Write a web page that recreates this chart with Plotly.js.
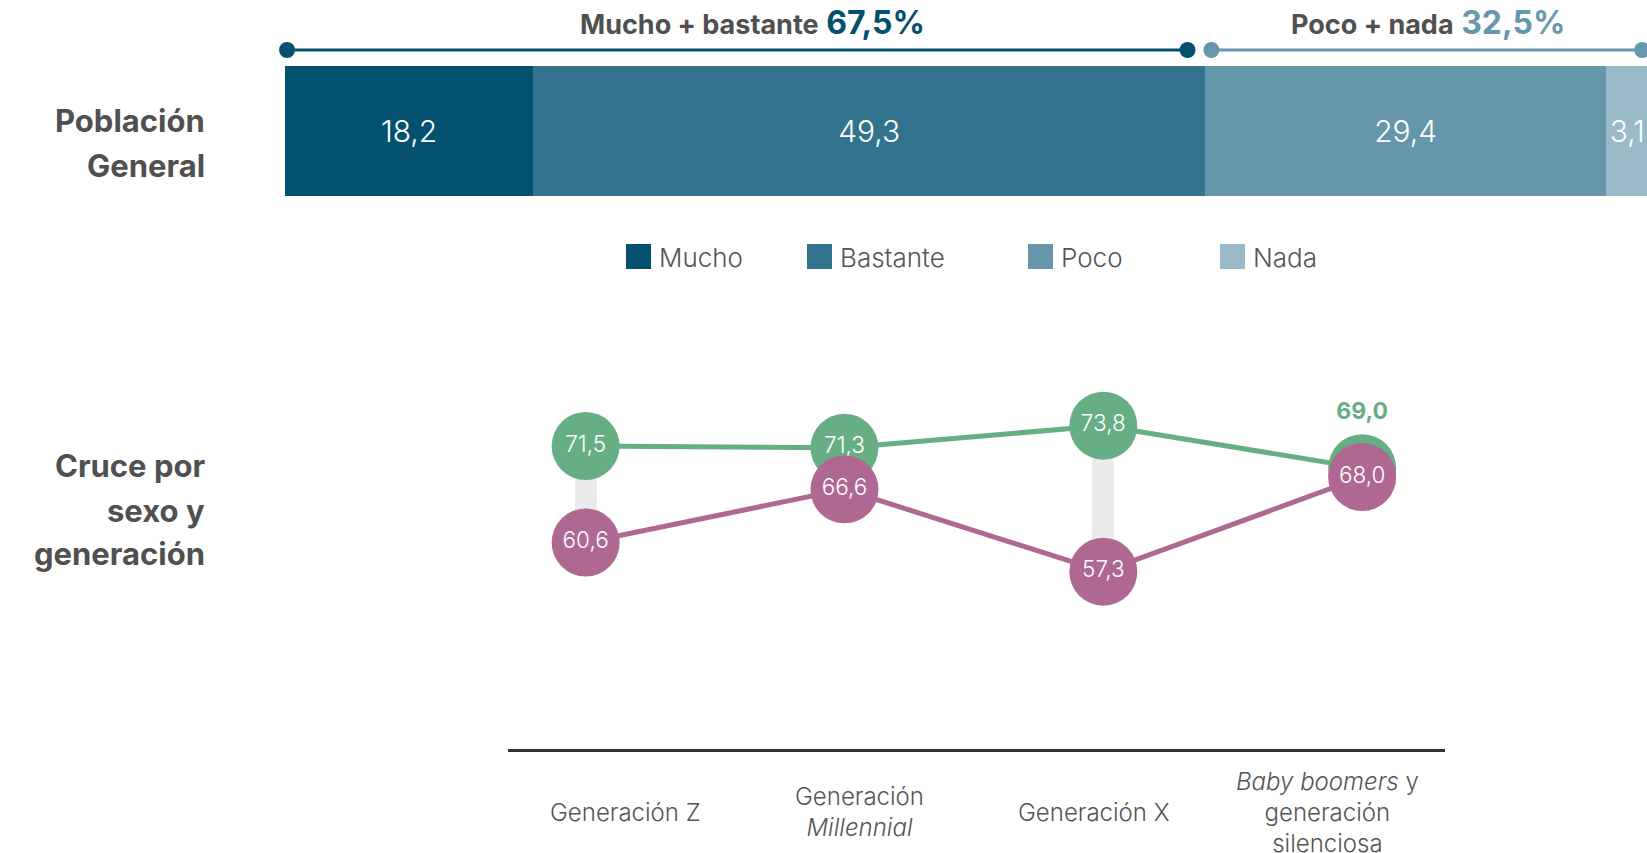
<!DOCTYPE html>
<html>
<head>
<meta charset="utf-8">
<script src="https://cdn.plot.ly/plotly-3.0.1.min.js"></script>
<style>html,body{margin:0;padding:0;background:#fff;}#chart{width:1647px;height:853px;}</style>
</head>
<body>
<div id="chart"></div>
<script>
// ---------- DATA ----------
const levels = ['Mucho', 'Bastante', 'Poco', 'Nada'];
const generalValues = [18.2, 49.3, 29.4, 3.1];
const generations = ['Generación Z', 'Generación Millennial', 'Generación X', 'Baby boomers y generación silenciosa'];
const generationLabels = ['Generación Z', 'Generación<br><i>Millennial</i>', 'Generación X', '<i>Baby boomers</i> y<br>generación<br>silenciosa'];
const seriesGreen = [71.5, 71.3, 73.8, 69.0];
const seriesPurple = [60.6, 66.6, 57.3, 68.0];
const groupTitles = ['Mucho + bastante', 'Poco + nada'];
const rowLabelGeneral = ['Población', 'General'];
const rowLabelCross = ['Cruce por', 'sexo y', 'generación'];

// ---------- STYLE ----------
const W = 1647, H = 853;
const FONT = 'Inter, "Open Sans", sans-serif';
const levelColors = ['#03506f', '#34738d', '#6696ab', '#9bbac8'];
const GREEN = '#67ae85', PURPLE = '#ae6891', GRAY_LINK = '#ebebeb';
const TEXT = '#505050';
const px = x => x / W, py = y => 1 - y / H;
const fmt = v => v.toFixed(1).replace('.', ',');

const X_LEFT = px(285), X_MAX = 99.9;
const xTopPaper = v => X_LEFT + (1 - X_LEFT) * v / X_MAX;

const sumHigh = generalValues[0] + generalValues[1];
const sumLow = generalValues[2] + generalValues[3];

const traces = [];
// top stacked bar
levels.forEach((lv, i) => {
  traces.push({
    type: 'bar', orientation: 'h', name: lv,
    x: [generalValues[i]], y: [0], width: [1],
    xaxis: 'x', yaxis: 'y',
    marker: {color: levelColors[i], line: {width: 0}},
    text: [fmt(generalValues[i])], textposition: 'inside', insidetextanchor: 'middle',
    constraintext: 'none', textangle: 0,
    textfont: {family: FONT, size: 30, color: '#ffffff', weight: 300},
    showlegend: false, hoverinfo: 'skip', cliponaxis: true
  });
});
// gray connectors
traces.push({
  type: 'bar', x: generations, y: seriesGreen.map((g, i) => g - seriesPurple[i]),
  base: seriesPurple, width: 0.086, xaxis: 'x3', yaxis: 'y2',
  marker: {color: GRAY_LINK, line: {width: 0}}, showlegend: false, hoverinfo: 'skip'
});
// green series
const lastIdx = seriesGreen.length - 1;
traces.push({
  type: 'scatter', mode: 'lines+markers+text', name: 'Serie 1',
  x: generations, y: seriesGreen, xaxis: 'x3', yaxis: 'y2',
  line: {color: GREEN, width: 5},
  marker: {color: GREEN, size: 68, line: {width: 0}},
  text: seriesGreen.map((v, i) => i === lastIdx ? '<b>' + fmt(v) + '</b>' : fmt(v)),
  textposition: seriesGreen.map((v, i) => i === lastIdx ? 'top center' : 'middle center'),
  textfont: {family: FONT, size: seriesGreen.map((v, i) => i === lastIdx ? 23 : 22.5),
             color: seriesGreen.map((v, i) => i === lastIdx ? GREEN : '#ffffff'),
             weight: 300},
  cliponaxis: false, showlegend: false, hoverinfo: 'skip'
});
// purple series
traces.push({
  type: 'scatter', mode: 'lines+markers+text', name: 'Serie 2',
  x: generations, y: seriesPurple, xaxis: 'x3', yaxis: 'y2',
  line: {color: PURPLE, width: 5},
  marker: {color: PURPLE, size: 68, line: {width: 0}},
  text: seriesPurple.map(fmt), textposition: 'middle center',
  textfont: {family: FONT, size: 22.5, color: '#ffffff', weight: 300},
  cliponaxis: false, showlegend: false, hoverinfo: 'skip'
});

// ---------- shapes / annotations ----------
const shapes = [];
const annotations = [];
const BRACKET_Y = py(50);
const brackets = [
  {x0: 0.15, x1: sumHigh - 1.3, color: '#03506f'},
  {x0: sumHigh + 0.45, x1: sumHigh + sumLow - 0.45, color: '#6698ad'}
];
brackets.forEach(b => {
  shapes.push({type: 'line', xref: 'paper', yref: 'paper', x0: xTopPaper(b.x0), x1: xTopPaper(b.x1),
               y0: BRACKET_Y, y1: BRACKET_Y, line: {color: b.color, width: 3}});
  [b.x0, b.x1].forEach(xv => shapes.push({
    type: 'circle', xref: 'paper', yref: 'paper', xsizemode: 'pixel', ysizemode: 'pixel',
    xanchor: xTopPaper(xv), yanchor: BRACKET_Y, x0: -8, x1: 8, y0: -8, y1: 8,
    fillcolor: b.color, line: {width: 0}
  }));
});
annotations.push({
  xref: 'paper', yref: 'paper', x: px(752), y: py(22), xanchor: 'center', yanchor: 'middle', showarrow: false,
  text: '<b>' + groupTitles[0] + '</b> <span style="color:#03506f;font-size:32px"><b>' + fmt(sumHigh) + '%</b></span>',
  font: {family: FONT, size: 27, color: TEXT}
});
annotations.push({
  xref: 'paper', yref: 'paper', x: px(1428), y: py(22), xanchor: 'center', yanchor: 'middle', showarrow: false,
  text: '<b>' + groupTitles[1] + '</b> <span style="color:#6698ad;font-size:32px"><b>' + fmt(sumLow) + '%</b></span>',
  font: {family: FONT, size: 27, color: TEXT}
});
// row labels
[[rowLabelGeneral, [121, 165]], [rowLabelCross, [465, 510, 553]]].forEach(([lines, ys]) => {
  lines.forEach((t, i) => annotations.push({
    xref: 'paper', yref: 'paper', x: px(207), y: py(ys[i]), xanchor: 'right', yanchor: 'middle',
    showarrow: false, text: '<b>' + t + '</b>', font: {family: FONT, size: 31, color: TEXT}
  }));
});
// custom legend
const legendX = [626, 807, 1028, 1220];
levels.forEach((lv, i) => {
  shapes.push({type: 'rect', xref: 'paper', yref: 'paper', x0: px(legendX[i]), x1: px(legendX[i] + 25),
               y0: py(269), y1: py(244), fillcolor: levelColors[i], line: {width: 0}});
  annotations.push({xref: 'paper', yref: 'paper', x: px(legendX[i] + 31), y: py(257), xanchor: 'left', yanchor: 'middle',
                    showarrow: false, text: lv, font: {family: FONT, size: 26, color: '#555555', weight: 300}});
});
// category labels (centered vertically, one per quarter of the axis line)
generations.forEach((g, i) => annotations.push({
  xref: 'x2', yref: 'paper', x: g, y: py(812), xanchor: 'center', yanchor: 'middle', showarrow: false,
  text: generationLabels[i], align: 'center', font: {family: FONT, size: 24, color: '#555555', weight: 300}
}));

const layout = {
  width: W, height: H, margin: {l: 0, r: 0, t: 0, b: 0},
  paper_bgcolor: '#ffffff', plot_bgcolor: 'rgba(0,0,0,0)',
  barmode: 'stack', bargap: 0, showlegend: false, hovermode: false,
  font: {family: FONT, color: TEXT},
  xaxis: {domain: [X_LEFT, 1], range: [0, X_MAX], visible: false, fixedrange: true},
  yaxis: {domain: [py(196), py(66)], range: [-0.5, 0.5], visible: false, fixedrange: true},
  xaxis2: {domain: [px(508), px(1445)], range: [-0.5, 3.5], type: 'category', categoryarray: generations,
           anchor: 'y2', showline: true, linecolor: '#333333', linewidth: 3, showticklabels: false, ticks: '',
           showgrid: false, zeroline: false, fixedrange: true},
  xaxis3: {domain: [px(508), px(1445)], range: [-0.3, 3.32], type: 'category', categoryarray: generations,
           anchor: 'y2', overlaying: 'x2', visible: false, fixedrange: true},
  yaxis2: {domain: [py(749), py(390)], range: [37.26, 77.83], anchor: 'x2', visible: false, fixedrange: true},
  shapes: shapes, annotations: annotations
};

Plotly.newPlot('chart', traces, layout, {displayModeBar: false, staticPlot: true});
</script>
</body>
</html>
